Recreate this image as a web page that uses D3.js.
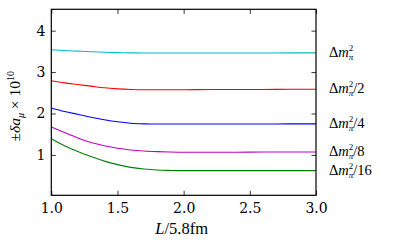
<!DOCTYPE html>
<html>
<head>
<meta charset="utf-8">
<script src="https://cdn.jsdelivr.net/npm/d3@7"></script>
<style>
  body { margin: 0; background: #fff; }
</style>
</head>
<body>
<div id="chart"></div>
<script>
// data
var L = [1.0, 1.1, 1.2, 1.3, 1.4, 1.5, 1.6, 1.7, 1.8, 1.9, 2.0, 2.2, 2.4, 2.6, 2.8, 3.0];
var full    = [3.54, 3.52, 3.505, 3.49, 3.48, 3.47, 3.465, 3.46, 3.46, 3.46, 3.46, 3.46, 3.46, 3.46, 3.465, 3.465];
var half    = [2.79, 2.74, 2.70, 2.66, 2.62, 2.595, 2.58, 2.575, 2.575, 2.575, 2.575, 2.58, 2.58, 2.58, 2.585, 2.585];
var quarter = [2.135, 2.05, 1.98, 1.91, 1.85, 1.80, 1.765, 1.75, 1.745, 1.745, 1.745, 1.745, 1.745, 1.745, 1.75, 1.75];
var eighth  = [1.676, 1.54, 1.41, 1.30, 1.22, 1.16, 1.12, 1.095, 1.08, 1.07, 1.065, 1.065, 1.065, 1.07, 1.07, 1.07];
var sixteenth = [1.39, 1.22, 1.08, 0.96, 0.85, 0.765, 0.70, 0.66, 0.635, 0.625, 0.62, 0.62, 0.62, 0.62, 0.62, 0.62];

var seriesNames = ["", "/2", "/4", "/8", "/16"];
var seriesColors = ["#00bfbf", "#ff0000", "#0000ff", "#bf00bf", "#008000"];
var seriesValues = [full, half, quarter, eighth, sixteenth];

var xTicks = [1.0, 1.5, 2.0, 2.5, 3.0];
var yTicks = [1, 2, 3, 4];

var tickFont = "DejaVu Serif";
var mathFont = "Liberation Serif";

var margin = {top: 9.3, right: 83, bottom: 54.7, left: 51.3};
var totalW = 399, totalH = 250;
var width = totalW - margin.left - margin.right,
    height = totalH - margin.top - margin.bottom;

var svg = d3.select("#chart")
  .append("svg")
    .attr("width", totalW)
    .attr("height", totalH)
  .append("g")
    .attr("transform", "translate(" + margin.left + "," + margin.top + ")");

var x = d3.scaleLinear()
  .domain([1.0, 3.0])
  .range([0, width]);

var y = d3.scaleLinear()
  .domain([0.025, 4.516])
  .range([height, 0]);

// lines
var line = d3.line()
  .x(function(d, i) { return x(L[i]); })
  .y(function(d) { return y(d); })
  .curve(d3.curveMonotoneX);

seriesValues.forEach(function(vals, k) {
  svg.append("path")
    .datum(vals)
    .attr("fill", "none")
    .attr("stroke", seriesColors[k])
    .attr("stroke-width", 1.1)
    .attr("d", line);
});

// axes, ticks pointing inward like matplotlib classic
var fmt = d3.format(".1f");
var gx = svg.append("g")
  .attr("transform", "translate(0," + height + ")")
  .call(d3.axisBottom(x).tickValues(xTicks).tickFormat(fmt).tickSizeInner(-4.5).tickSizeOuter(0).tickPadding(10));
var gxTop = svg.append("g")
  .call(d3.axisTop(x).tickValues(xTicks).tickFormat("").tickSizeInner(-4.5).tickSizeOuter(0));
var gy = svg.append("g")
  .call(d3.axisLeft(y).tickValues(yTicks).tickFormat(d3.format("d")).tickSizeInner(-4.5).tickSizeOuter(0).tickPadding(10));
var gyRight = svg.append("g")
  .attr("transform", "translate(" + width + ",0)")
  .call(d3.axisRight(y).tickValues(yTicks).tickFormat("").tickSizeInner(-4.5).tickSizeOuter(0));

[gx, gxTop, gy, gyRight].forEach(function(g) {
  g.attr("font-family", tickFont).attr("font-size", 14);
  g.select(".domain").remove();
  g.selectAll(".tick line").attr("stroke", "#000").attr("stroke-width", 0.8);
  g.selectAll(".tick text").attr("fill", "#000");
});
gx.selectAll(".tick text").attr("dy", "0.71em").attr("y", 8);
gy.selectAll(".tick text").attr("x", -6);

// frame
svg.append("rect")
  .attr("width", width)
  .attr("height", height)
  .attr("fill", "none")
  .attr("stroke", "#000")
  .attr("stroke-width", 1.2);

// series labels on the right
seriesValues.forEach(function(vals, k) {
  var t = svg.append("text")
    .attr("x", width + 13)
    .attr("y", y(vals[vals.length - 1]) + 4)
    .attr("font-family", mathFont)
    .attr("font-size", 14.5)
    .attr("fill", "#000");
  t.append("tspan").text("Δ");
  t.append("tspan").attr("font-style", "italic").text("m");
  t.append("tspan").attr("font-size", 9).attr("dy", -6).text("2");
  t.append("tspan").attr("font-size", 9).attr("font-style", "italic").attr("dx", -4.5).attr("dy", 9).text("π");
  t.append("tspan").attr("dy", -3).text(seriesNames[k]);
});

// y label
var yl = svg.append("text")
  .attr("transform", "translate(" + (20 - margin.left) + "," + (height / 2 + 4) + ") rotate(-90)")
  .attr("text-anchor", "middle")
  .attr("font-family", mathFont)
  .attr("font-size", 15.5)
  .attr("fill", "#000");
yl.append("tspan").text("±");
yl.append("tspan").attr("font-style", "italic").text("δa");
yl.append("tspan").attr("font-style", "italic").attr("font-size", 10).attr("dy", 4).text("μ");
yl.append("tspan").attr("dy", -4).text(" × 10");
yl.append("tspan").attr("font-size", 10).attr("dy", -6).text("10");

// x label
var xl = svg.append("text")
  .attr("x", width / 2 - 2)
  .attr("y", height + 39)
  .attr("text-anchor", "middle")
  .attr("font-family", mathFont)
  .attr("font-size", 16.5)
  .attr("fill", "#000");
xl.append("tspan").attr("font-style", "italic").text("L");
xl.append("tspan").text("/5.8fm");
</script>
</body>
</html>
